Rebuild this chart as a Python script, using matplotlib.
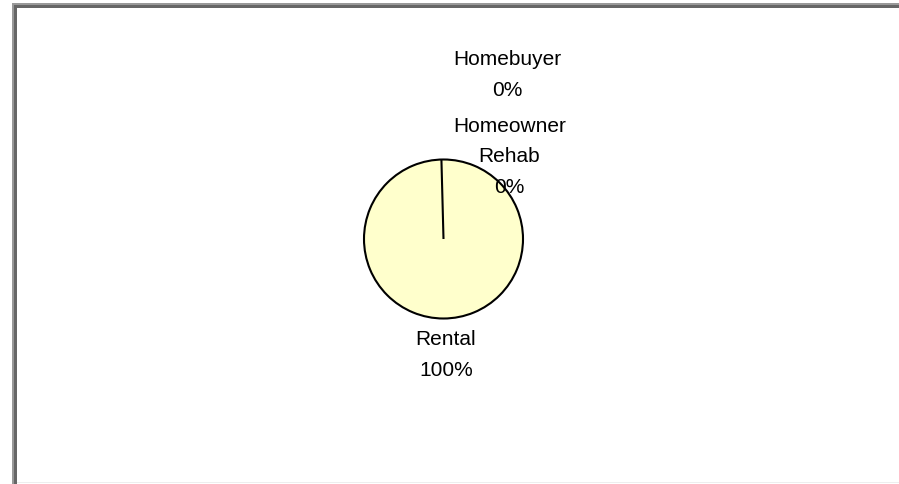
import numpy as np
import matplotlib.pyplot as plt
from matplotlib.patches import Rectangle

# Data
categories = ["Homebuyer", "Homeowner\nRehab", "Rental"]
shares = [0, 0, 100]

# label anchor points (pixel space, y up)
label_pos = [(507, 410), (509.5, 328), (446, 130)]

plt.rcParams['font.family'] = ['Liberation Sans', 'DejaVu Sans']

fig = plt.figure(figsize=(8.99, 4.85), dpi=100)
ax = fig.add_axes([0, 0, 1, 1])

center = (443.5, 245)
radius = 79.5
start = 91.5
ax.pie(shares, center=center, radius=radius, startangle=start,
       counterclock=False, frame=True, colors=["#FFFFCC"] * 3,
       wedgeprops=dict(edgecolor="black", linewidth=1.5))

# the zero-size slices collapse into a single boundary line at the start angle
a = np.deg2rad(start)
ax.plot([center[0], center[0] + radius * np.cos(a)],
        [center[1], center[1] + radius * np.sin(a)],
        color="black", linewidth=1.5, solid_capstyle="butt")

ax.set_xlim(0, 899)
ax.set_ylim(0, 485)
ax.set_aspect('equal')
ax.axis('off')

total = sum(shares)
for name, v, (x, y) in zip(categories, shares, label_pos):
    pct = round(v / total * 100)
    ax.text(x, y, f"{name}\n{pct}%", ha="center", va="center",
            fontsize=15, linespacing=1.75, color="black")

# window-style border on left and top
W, H = 899, 485
def px_rect(x0, y0, x1, y1, color):
    fig.add_artist(Rectangle((x0 / W, 1 - y1 / H), (x1 - x0) / W, (y1 - y0) / H,
                             transform=fig.transFigure, facecolor=color,
                             edgecolor="none"))

px_rect(12, 4, 899, 6, "#999999")
px_rect(12, 4, 14, 485, "#999999")
px_rect(14, 6, 899, 9, "#666666")
px_rect(14, 6, 17, 485, "#666666")
px_rect(17, 483, 899, 484, "#eeeeee")

plt.savefig("out.png", dpi=100)
